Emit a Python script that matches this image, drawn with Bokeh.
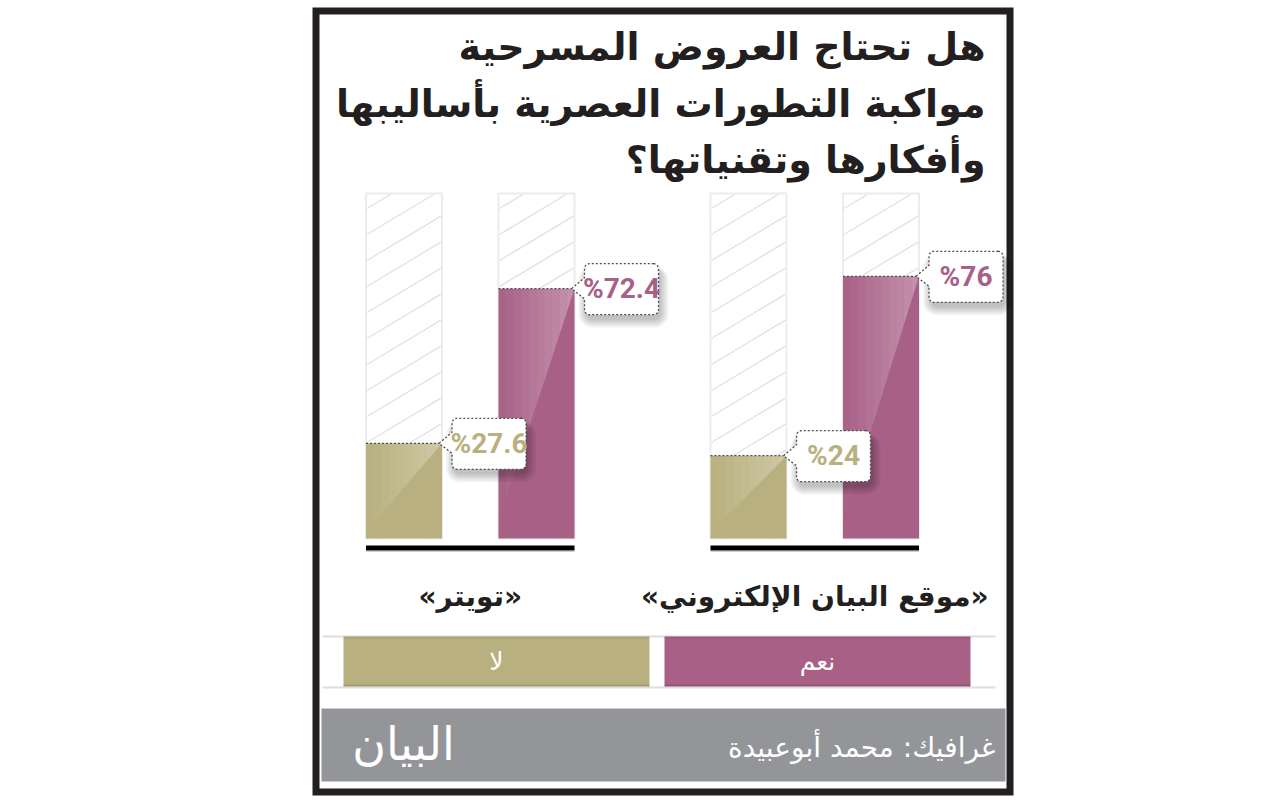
import math
from bokeh.plotting import figure
from bokeh.models import Range1d
from bokeh.embed import file_html
from bokeh.resources import INLINE
from bokeh.core.properties import value

# ---------------- data ----------------
title_lines = ["هل تحتاج العروض المسرحية",
               "مواكبة التطورات العصرية بأساليبها",
               "وأفكارها وتقنياتها؟"]
platforms = ["«موقع البيان الإلكتروني»", "«تويتر»"]
answers = ["نعم", "لا"]
answer_colors = ["#a86087", "#b8b07e"]
yes_pct = [76, 72.4]
no_pct = [24, 27.6]
full_pct = 100
credit = "غرافيك: محمد أبوعبيدة"
logo = "البيان"

# ---------------- layout constants ----------------
W, H = 1280, 800
X0, UX = 403.5, 132.5      # screen x of slot 0, px per slot unit
Y0, UY = 538.0, 3.45       # screen y of 0 %, px per percent
GROUP_GAP = 2.6
BAR_W = 0.574
AR_FONT = value("DejaVu Sans")
NUM_FONT = value("Roboto")


def sx(u):
    return X0 + u * UX


def sy(v):
    return Y0 - v * UY


p = figure(width=W, height=H, x_range=Range1d(0, W), y_range=Range1d(H, 0),
           output_backend="svg", toolbar_location=None,
           x_axis_type=None, y_axis_type=None, min_border=0)
p.extra_x_ranges = {"slot": Range1d((0 - X0) / UX, (W - X0) / UX)}
p.extra_y_ranges = {"pct": Range1d((Y0 - H) / UY, (Y0 - 0) / UY)}
p.outline_line_color = None
p.background_fill_color = "white"
p.border_fill_color = "white"
p.grid.visible = False

# ---------------- frame ----------------
p.quad(left=[315.5], right=[1009.5], top=[10.5], bottom=[791.5],
       fill_color=None, line_color="#231f20", line_width=7, line_join="miter")

# ---------------- title ----------------
p.text(x=[985] * 3, y=[46, 103, 159], text=title_lines, text_align="right",
       text_baseline="middle", text_font=AR_FONT, text_font_style="bold",
       text_font_size="38px", text_color="#231f20")

# ---------------- bars ----------------
n_grp = len(platforms)
bar_x, bar_top, bar_col, bar_lbl = [], [], [], []
grp_x = []
for i in range(n_grp):
    g = (n_grp - 1 - i) * GROUP_GAP
    grp_x.append(g + 0.5)
    # "لا" on the left, "نعم" on the right of each group
    bar_x += [g, g + 1]
    bar_top += [no_pct[i], yes_pct[i]]
    bar_col += [answer_colors[1], answer_colors[0]]
    bar_lbl += ["%" + f"{no_pct[i]:g}", "%" + f"{yes_pct[i]:g}"]

# 100% backgrounds
p.vbar(x=bar_x, top=[full_pct] * len(bar_x), bottom=0, width=BAR_W,
       fill_color="white", line_color="#ececec", line_width=2,
       x_range_name="slot", y_range_name="pct")

# diagonal hatching inside the backgrounds (decoration)
hx, hy = [], []
SLOPE, STEP = 0.6, 26.0
for x in bar_x:
    L, R = sx(x - BAR_W / 2) + 1, sx(x + BAR_W / 2) - 1
    T, B = sy(full_pct) + 1, sy(0)
    w = R - L
    c = T + 14
    while c < B + SLOPE * w:
        xa = L + max(0.0, (c - B) / SLOPE)
        xb = L + min(w, (c - T) / SLOPE)
        if xa < xb:
            hx.append([xa, xb])
            hy.append([c - SLOPE * (xa - L), c - SLOPE * (xb - L)])
        c += STEP
p.multi_line(xs=hx, ys=hy, line_color="#e2e2e2", line_width=1.4)

# value bars
p.vbar(x=bar_x, top=bar_top, bottom=0, width=BAR_W, fill_color=bar_col,
       line_color=None, x_range_name="slot", y_range_name="pct")

# gloss highlight (decoration)
gxs, gys, galpha = [], [], []
n_strip = 10
for x, t in zip(bar_x, bar_top):
    L, R = sx(x - BAR_W / 2), sx(x + BAR_W / 2)
    T, B = sy(t), sy(0)
    D = (B - T) * 0.93
    for j in range(n_strip):
        xa = L + (R - L) * j / n_strip
        xb = L + (R - L) * (j + 1) / n_strip
        ya = T + D * (R - xa) / (R - L)
        yb = T + D * (R - xb) / (R - L)
        gxs.append([xa, xb, xb, xa])
        gys.append([T, T, yb, ya])
        galpha.append(0.32 * (j + 0.5) / n_strip)
p.patches(xs=gxs, ys=gys, fill_color="white", fill_alpha=galpha, line_color=None)

# dashed line along each bar top
p.segment(x0=[x - BAR_W / 2 for x in bar_x], x1=[x + BAR_W / 2 for x in bar_x],
          y0=bar_top, y1=bar_top, line_color="#4d4d4d", line_width=1.3,
          line_dash="2 2", x_range_name="slot", y_range_name="pct")

# baselines under groups
p.quad(left=[g - 0.5 - BAR_W / 2 for g in grp_x], right=[g + 0.5 + BAR_W / 2 for g in grp_x],
       top=[545] * n_grp, bottom=[550] * n_grp, fill_color="black", line_color=None,
       x_range_name="slot")
p.segment(x0=[g - 0.5 - BAR_W / 2 for g in grp_x], x1=[g + 0.5 + BAR_W / 2 for g in grp_x],
          y0=[551] * n_grp, y1=[551] * n_grp, line_color="#cfcfcf", line_width=1,
          x_range_name="slot")


# ---------------- callouts ----------------
def rbox(bx0, by0, bx1, by1, r, pointer=None):
    pts = []

    def arc(cx, cy, a0, a1):
        for k in range(7):
            a = math.radians(a0 + (a1 - a0) * k / 6)
            pts.append((cx + r * math.cos(a), cy + r * math.sin(a)))
    arc(bx1 - r, by0 + r, -90, 0)
    arc(bx1 - r, by1 - r, 0, 90)
    arc(bx0 + r, by1 - r, 90, 180)
    if pointer:
        pt, pb, tip = pointer
        pts.append((bx0, pb))
        pts.append(tip)
        pts.append((bx0, pt))
    arc(bx0 + r, by0 + r, 180, 270)
    return [q[0] for q in pts], [q[1] for q in pts]


sh_xs, sh_ys = [], []
cb_xs, cb_ys = [], []
for x, t in zip(bar_x, bar_top):
    R, T = sx(x + BAR_W / 2), sy(t)
    bx0, bx1, by0, by1 = R + 10, R + 84, T - 25, T + 26
    for k in range(6):
        e = k * 1.6
        xs, ys = rbox(bx0 + 2 - e, by0 + 6 - e * 0.4, bx1 + 2 + e, by1 + 5 + e, 6 + e)
        sh_xs.append(xs)
        sh_ys.append(ys)
    xs, ys = rbox(bx0, by0, bx1, by1, 5, pointer=(T - 11, T + 10, (R - 3, T)))
    cb_xs.append(xs)
    cb_ys.append(ys)

p.patches(xs=sh_xs, ys=sh_ys, fill_color="#000000", fill_alpha=0.045, line_color=None)
p.patches(xs=cb_xs, ys=cb_ys, fill_color="white", line_color="#4d4d4d",
          line_width=1.3, line_dash="2 2")

p.text(x=[x + BAR_W / 2 for x in bar_x], y=bar_top, x_offset=47, text=bar_lbl,
       text_color=bar_col, text_align="center", text_baseline="middle",
       text_font=NUM_FONT, text_font_style="bold", text_font_size="28px",
       x_range_name="slot", y_range_name="pct")

# ---------------- group labels ----------------
p.text(x=grp_x, y=[596] * n_grp, text=platforms, text_align="center",
       text_baseline="middle", text_font=AR_FONT, text_font_style="bold",
       text_font_size="28px", text_color="#231f20", x_range_name="slot")

# ---------------- legend ----------------
leg_l, leg_r, leg_gap = 343, 970, 15
leg_w = (leg_r - leg_l - leg_gap) / len(answers)
p.segment(x0=[322, 322], x1=[995, 995], y0=[636, 687], y1=[636, 687],
          line_color="#dedede", line_width=2)
lq_l, lq_r, lq_c = [], [], []
for j in range(len(answers)):
    right = leg_r - j * (leg_w + leg_gap)
    lq_l.append(right - leg_w)
    lq_r.append(right)
    lq_c.append(right - leg_w / 2)
p.quad(left=lq_l, right=lq_r, top=[636] * len(answers), bottom=[686] * len(answers),
       fill_color=answer_colors, line_color=None)
p.quad(left=lq_l, right=lq_r, top=[684] * len(answers), bottom=[686] * len(answers),
       fill_color="black", fill_alpha=0.12, line_color=None)
p.quad(left=lq_l, right=lq_r, top=[636] * len(answers), bottom=[638] * len(answers),
       fill_color="black", fill_alpha=0.08, line_color=None)
p.text(x=lq_c, y=[661] * len(answers), text=answers, text_align="center",
       text_baseline="middle", text_font=AR_FONT, text_font_size="25px",
       text_color="white")

# ---------------- footer ----------------
p.quad(left=[321], right=[1005], top=[708], bottom=[781], fill_color="#939598",
       line_color=None)
p.text(x=[995], y=[747], text=[credit], text_align="right", text_baseline="middle",
       text_font=AR_FONT, text_font_size="28px", text_color="white")
p.text(x=[403], y=[743], text=[logo], text_align="center", text_baseline="middle",
       text_font=AR_FONT, text_font_size="46px", text_color="white")

open("out.html", "w").write(file_html(p, INLINE))
